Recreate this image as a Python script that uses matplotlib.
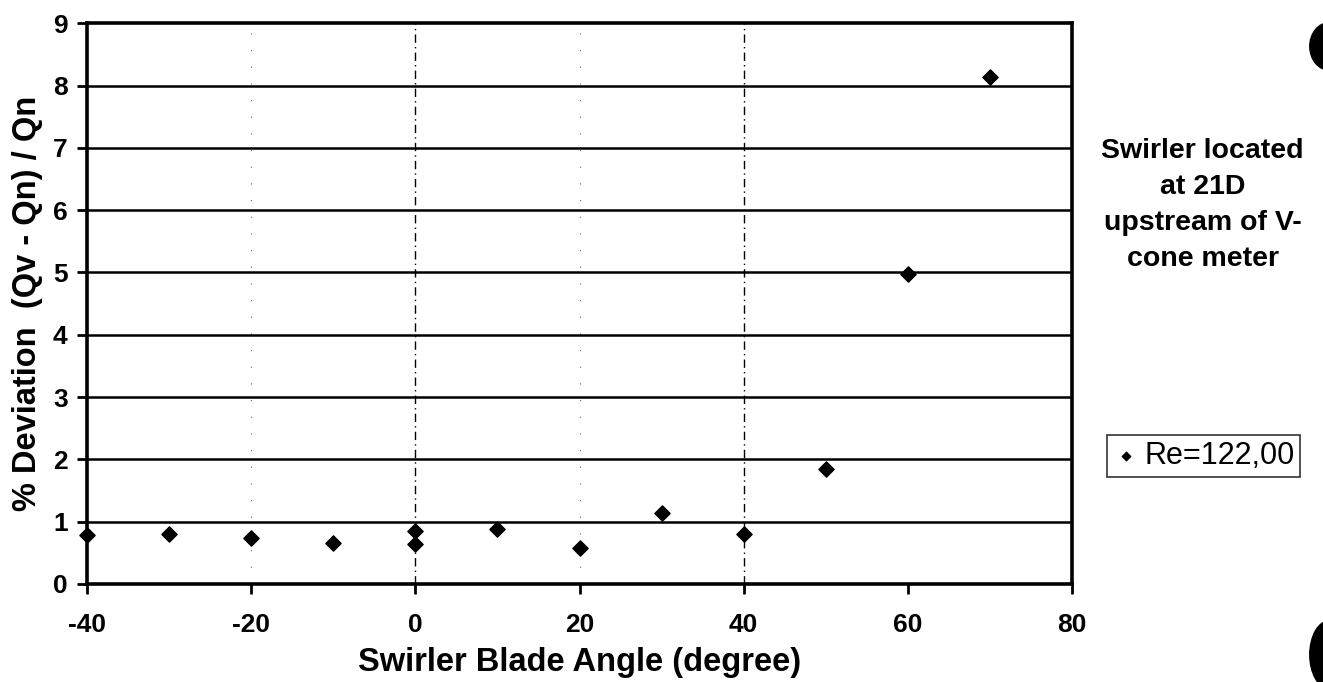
# %% Swirler blade angle vs % deviation (V-cone meter)

import matplotlib
matplotlib.use('Agg')
import matplotlib.pyplot as plt
from matplotlib.patches import Ellipse

# %% Data

blade_angle = [-40, -30, -20, -10, 0, 0, 10, 20, 30, 40, 50, 60, 70]
deviation = [0.79, 0.80, 0.74, 0.66, 0.85, 0.64, 0.88, 0.58, 1.14, 0.80, 1.85, 4.98, 8.14]

x_ticks = [-40, -20, 0, 20, 40, 60, 80]
y_ticks = list(range(0, 10))

series_label = 'Re=122,00'
note_text = 'Swirler located\nat 21D\nupstream of V-\ncone meter'

# %% Plot

plt.rcParams['font.family'] = ['Liberation Sans', 'DejaVu Sans']
plt.rcParams['axes.unicode_minus'] = False

fig = plt.figure(figsize=(13.23, 6.82), dpi=100)
fig.set_facecolor('white')
ax = fig.add_axes([0.0658, 0.1437, 0.7445, 0.8223])

# Horizontal gridlines
for y in y_ticks[1:-1]:
    ax.axhline(y, color='black', lw=1.8, zorder=1)

# Vertical dash-dot gridlines
for x in [0, 40]:
    ax.axvline(x, color='black', lw=1.0, ls=(0, (6, 3, 1, 3)), zorder=1)
for x in [-20, 20]:
    ax.axvline(x, color='black', lw=0.8, ls=(0, (1, 14)), alpha=0.6, zorder=1)

ax.scatter(blade_angle, deviation, marker='D', s=60, color='black', zorder=3,
           label=series_label, clip_on=False)

ax.set_xlim(-40, 80)
ax.set_ylim(0, 9)
ax.set_xticks(x_ticks)
ax.set_yticks(y_ticks)
ax.tick_params(axis='both', direction='out', length=7, width=2, labelsize=19)
ax.tick_params(axis='x', pad=14)
ax.tick_params(axis='y', pad=7)
for lab in ax.get_xticklabels() + ax.get_yticklabels():
    lab.set_fontweight('bold')

for side in ['left', 'right', 'top', 'bottom']:
    ax.spines[side].set_linewidth(2.6)

ax.set_xlabel('Swirler Blade Angle (degree)', fontsize=23.5, fontweight='bold', labelpad=7)
ax.set_ylabel('% Deviation  (Qv - Qn) / Qn', fontsize=23.5, fontweight='bold', labelpad=7)

# Side note
fig.text(0.909, 0.70, note_text, ha='center', va='center', fontsize=20.5,
         fontweight='bold', linespacing=1.5)

# Legend
leg = fig.legend(loc='center', bbox_to_anchor=(0.910, 0.331), fontsize=22,
                 frameon=True, fancybox=False, edgecolor='black',
                 handletextpad=0.2, handlelength=0.8, borderpad=0.2,
                 markerscale=0.55)
leg.get_frame().set_linewidth(1.2)

# Punch holes at the right edge of the scan
for yc, h in [(0.932, 0.07), (0.04, 0.1)]:
    fig.add_artist(Ellipse((1.005, yc), 0.03, h, transform=fig.transFigure,
                           color='black', clip_on=False))

fig.savefig('out.png', dpi=100)
